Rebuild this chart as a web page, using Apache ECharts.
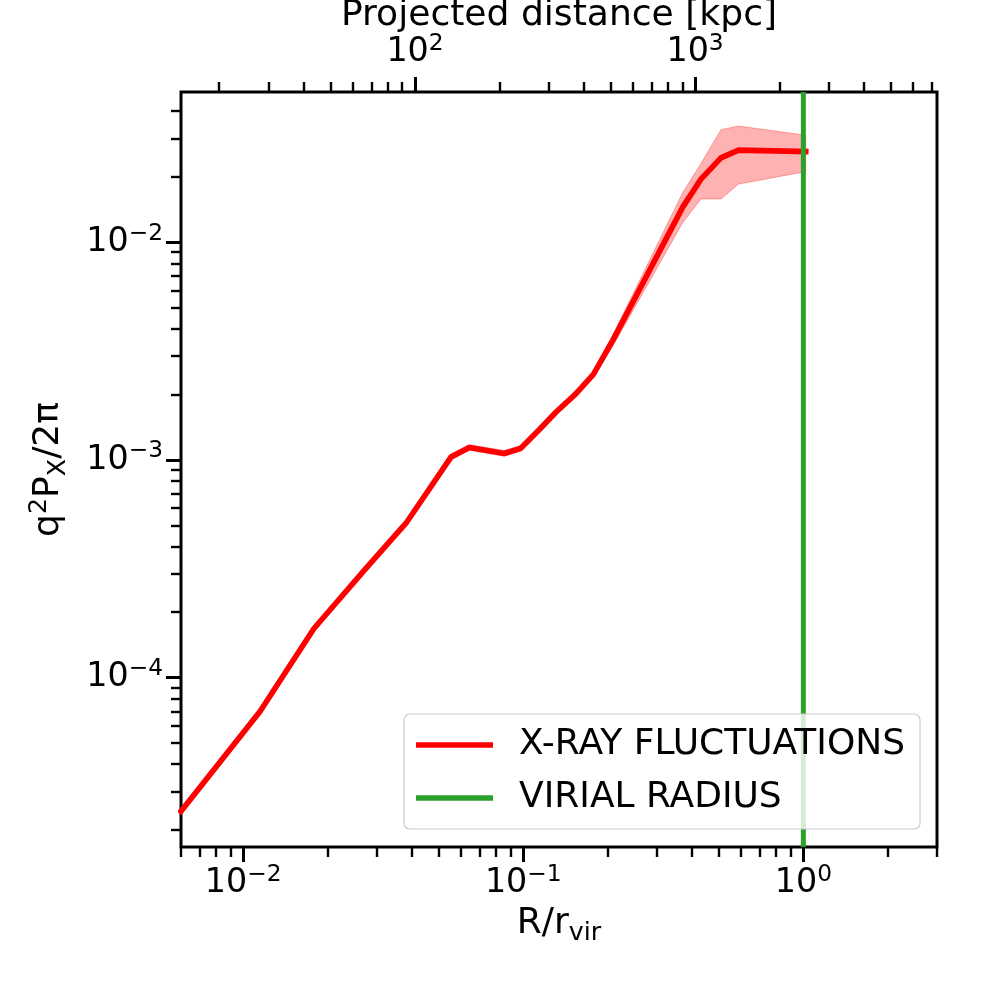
<!DOCTYPE html>
<html><head><meta charset="utf-8">
<script src="https://cdn.jsdelivr.net/npm/echarts@6/dist/echarts.min.js"></script>
<style>html,body{margin:0;padding:0;background:#fff}#c{width:1008px;height:1008px}</style>
</head><body><div id="c"></div>
<script>
// ---- data ----
const radiusRatio = [0.006, 0.0115, 0.0179, 0.027, 0.0382, 0.0552, 0.0642, 0.0855, 0.098, 0.114, 0.131, 0.154, 0.178, 0.2085, 0.371, 0.431, 0.508, 0.587, 1.02];
const fluctuation = [2.43e-5, 7.0e-5, 1.68e-4, 3.1e-4, 5.13e-4, 1.03e-3, 1.14e-3, 1.07e-3, 1.13e-3, 1.375e-3, 1.66e-3, 2.01e-3, 2.47e-3, 3.53e-3, 1.45e-2, 1.95e-2, 2.44e-2, 2.65e-2, 2.61e-2];
const fluctuationUpper = [2.46e-5, 7.1e-5, 1.70e-4, 3.14e-4, 5.2e-4, 1.065e-3, 1.175e-3, 1.105e-3, 1.165e-3, 1.42e-3, 1.71e-3, 2.08e-3, 2.55e-3, 3.73e-3, 1.69e-2, 2.30e-2, 3.29e-2, 3.42e-2, 3.10e-2];
const fluctuationLower = [2.40e-5, 6.9e-5, 1.66e-4, 3.06e-4, 5.07e-4, 1.0e-3, 1.107e-3, 1.04e-3, 1.097e-3, 1.335e-3, 1.61e-3, 1.95e-3, 2.40e-3, 3.32e-3, 1.23e-2, 1.58e-2, 1.58e-2, 1.85e-2, 2.11e-2];
const virialRadius = 1.0;
const rVirKpc = 2435;
const xLimits = [0.006, 3];
const yLimits = [1.665e-5, 0.049];
const xMajorTicks = [0.01, 0.1, 1];
const yMajorTicks = [1e-4, 1e-3, 1e-2];
const topMajorTicks = [100, 1000];
const seriesNames = ['X-RAY FLUCTUATIONS', 'VIRIAL RADIUS'];
const xLabelText = '{b|R/r}{sub|vir}';
const yLabelText = '{b|q}{sup|2}{b|P}{sub|X}{b|/2\u03c0}';
const topLabelText = 'Projected distance [kpc]';

function minorTicks(lo, hi) {
  const out = [];
  for (let e = Math.floor(Math.log10(lo)) - 1; e <= Math.ceil(Math.log10(hi)); e++) {
    for (let m = 2; m <= 9; m++) {
      const v = +(m * Math.pow(10, e)).toPrecision(6);
      if (v >= lo * 0.9999 && v <= hi * 1.0001) out.push(v);
    }
  }
  return out;
}
const topLimits = [xLimits[0] * rVirKpc, xLimits[1] * rVirKpc];

const FONT = 'DejaVu Sans';
const tickRich = {
  b: { fontSize: 33.3, fontFamily: FONT, color: '#000', lineHeight: 40, verticalAlign: 'middle' },
  s: { fontSize: 23.3, fontFamily: FONT, color: '#000', lineHeight: 22, verticalAlign: 'top' }
};
const nameRich = {
  b: { fontSize: 36.1, fontFamily: FONT, color: '#000', lineHeight: 44, verticalAlign: 'middle' },
  sub: { fontSize: 25.3, fontFamily: FONT, color: '#000', lineHeight: 20, verticalAlign: 'bottom' },
  sup: { fontSize: 25.3, fontFamily: FONT, color: '#000', lineHeight: 25, verticalAlign: 'top' }
};
function powLabel(v) {
  const e = Math.round(Math.log10(v));
  return '{b|10}{s|' + (e < 0 ? '\u2212' + (-e) : String(e)) + '}';
}
function logAxis(extra) {
  return Object.assign({
    type: 'log', logBase: 10,
    splitLine: { show: false }, minorTick: { show: false }, minorSplitLine: { show: false },
    axisLine: { show: false, onZero: false },
    nameMoveOverlap: false
  }, extra);
}
function majorTick(vals) { return { show: true, inside: false, length: 15, lineStyle: { color: '#000', width: 3 }, customValues: vals }; }
function minorTickCfg(vals) { return { show: true, inside: false, length: 10, lineStyle: { color: '#000', width: 2.4 }, customValues: vals }; }

const option = {
  animation: false,
  backgroundColor: '#fff',
  grid: { left: 181, right: 71, top: 92, bottom: 161, show: true, borderColor: '#000', borderWidth: 3, backgroundColor: 'transparent', containLabel: false, outerBoundsMode: 'none' },
  legend: {
    data: seriesNames, orient: 'vertical', left: 404, top: 714, z: 10,
    icon: 'rect',
    padding: [11, 15, 11, 12], itemWidth: 77, itemHeight: 5.6, itemGap: 13,
    backgroundColor: 'rgba(255,255,255,0.8)', borderColor: '#cccccc', borderWidth: 1.2, borderRadius: 6,
    textStyle: { fontSize: 36, fontFamily: FONT, color: '#000', lineHeight: 40, padding: [0, 0, 0, 21] }
  },
  xAxis: [
    logAxis({ position: 'bottom', min: xLimits[0], max: xLimits[1], axisTick: majorTick(xMajorTicks),
      axisLabel: { show: true, customValues: xMajorTicks, margin: 16, formatter: powLabel, rich: tickRich },
      name: xLabelText, nameLocation: 'middle', nameGap: 55, nameTextStyle: { rich: nameRich } }),
    logAxis({ position: 'bottom', min: xLimits[0], max: xLimits[1], axisTick: minorTickCfg(minorTicks(xLimits[0], xLimits[1])), axisLabel: { show: false } }),
    logAxis({ position: 'top', min: topLimits[0], max: topLimits[1], axisTick: majorTick(topMajorTicks),
      axisLabel: { show: true, customValues: topMajorTicks, margin: 20, formatter: powLabel, rich: tickRich },
      name: topLabelText, nameLocation: 'middle', nameGap: 58, nameTextStyle: { fontSize: 36.1, fontFamily: FONT, color: '#000' } }),
    logAxis({ position: 'top', min: topLimits[0], max: topLimits[1], axisTick: minorTickCfg(minorTicks(topLimits[0], topLimits[1])), axisLabel: { show: false } })
  ],
  yAxis: [
    logAxis({ position: 'left', min: yLimits[0], max: yLimits[1], axisTick: majorTick(yMajorTicks),
      axisLabel: { show: true, customValues: yMajorTicks, margin: 18, formatter: powLabel, rich: tickRich },
      name: yLabelText, nameLocation: 'middle', nameGap: 110, nameTextStyle: { rich: nameRich } }),
    logAxis({ position: 'left', min: yLimits[0], max: yLimits[1], axisTick: minorTickCfg(minorTicks(yLimits[0], yLimits[1])), axisLabel: { show: false } })
  ],
  series: [
    {
      type: 'custom', name: 'band', xAxisIndex: 0, yAxisIndex: 0, z: 2, clip: true, silent: true,
      data: [[radiusRatio[0], fluctuation[0]]],
      renderItem: function (params, api) {
        const pts = [];
        for (let i = 0; i < radiusRatio.length; i++) pts.push(api.coord([radiusRatio[i], fluctuationUpper[i]]));
        for (let i = radiusRatio.length - 1; i >= 0; i--) pts.push(api.coord([radiusRatio[i], fluctuationLower[i]]));
        return { type: 'polygon', shape: { points: pts }, style: { fill: 'rgba(255,0,0,0.3)', stroke: 'rgba(255,0,0,0.3)', lineWidth: 1 } };
      }
    },
    {
      type: 'line', name: seriesNames[0], xAxisIndex: 0, yAxisIndex: 0, z: 3,
      data: radiusRatio.map((x, i) => [x, fluctuation[i]]),
      symbol: 'none', showSymbol: false, clip: true,
      lineStyle: { color: '#ff0000', width: 5.6, cap: 'square', join: 'round' },
      itemStyle: { color: '#ff0000' }
    },
    {
      type: 'line', name: seriesNames[1], xAxisIndex: 0, yAxisIndex: 0, z: 4,
      data: [[virialRadius, yLimits[0]], [virialRadius, yLimits[1]]],
      symbol: 'none', showSymbol: false, clip: true,
      lineStyle: { color: '#2ca02c', width: 5 },
      itemStyle: { color: '#2ca02c' }
    }
  ]
};
const chart = echarts.init(document.getElementById('c'), null, { renderer: 'canvas' });
chart.setOption(option);
</script>
</body></html>
